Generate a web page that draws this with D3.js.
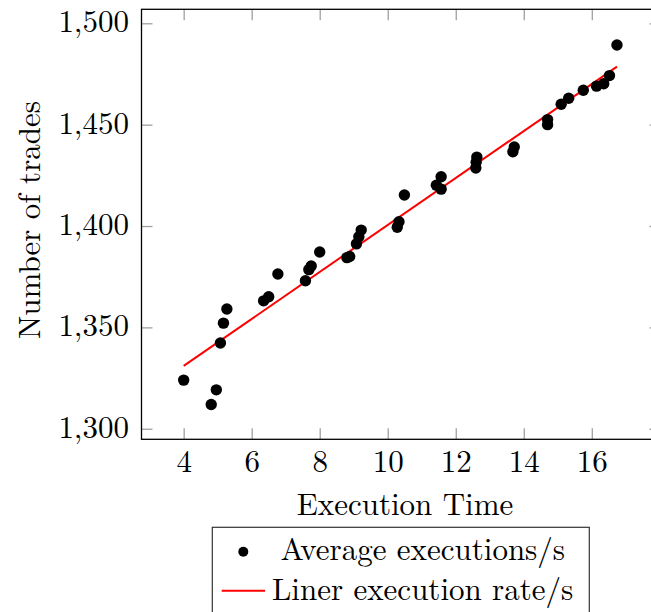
<!DOCTYPE html>
<html>
<head>
<meta charset="utf-8">
<script src="https://cdn.jsdelivr.net/npm/d3@7"></script>
<style>
  html, body { margin: 0; padding: 0; background: #fff; }
  svg { display: block; }
</style>
</head>
<body>
<svg id="chart" width="651" height="612"></svg>
<script>
// ---- data ----
const execTime = [4.00, 4.81, 4.96, 5.08, 5.17, 5.27, 6.35, 6.50, 6.77, 7.58, 7.68, 7.75, 8.00,
  8.80, 8.88, 9.08, 9.15, 9.22, 10.28, 10.33, 10.49, 11.43, 11.57, 11.57, 12.59, 12.60, 12.62,
  13.68, 13.72, 14.70, 14.70, 15.10, 15.32, 15.75, 16.14, 16.35, 16.52, 16.74];
const trades = [1324.0, 1312.0, 1319.2, 1342.3, 1352.1, 1359.1, 1363.1, 1365.1, 1376.3, 1373.0, 1378.5, 1380.3, 1387.2,
  1384.4, 1385.0, 1391.2, 1394.7, 1398.0, 1399.4, 1402.1, 1415.3, 1420.1, 1424.3, 1418.2, 1428.6, 1431.5, 1434.0,
  1436.6, 1439.0, 1450.0, 1452.5, 1460.1, 1463.0, 1467.0, 1469.0, 1470.2, 1474.2, 1489.3];
const fitX = [4.00, 16.74];
const fitY = [1331.0, 1478.6];
const xTicks = [4, 6, 8, 10, 12, 14, 16];
const yTicks = [1300, 1350, 1400, 1450, 1500];
const xDomain = [2.76, 18.02];
const yDomain = [1294.8, 1506.9];
const seriesNames = ["Average executions/s", "Liner execution rate/s"];
const xTitle = "Execution Time";
const yTitle = "Number of trades";

// ---- layout ----
const FONT = '"Latin Modern Roman", "Liberation Serif", serif';
const FS = 31;
const L = 141.5, R = 660.5, T = 9.3, B = 439.3;
const svg = d3.select("#chart");
svg.append("rect").attr("width", 651).attr("height", 612).attr("fill", "#fff");

const x = d3.scaleLinear().domain(xDomain).range([L, R]);
const y = d3.scaleLinear().domain(yDomain).range([B, T]);
const fmt = d3.format(",");
const tickLen = 11;
const tickColor = "#a0a0a0";

function styleAxis(g) {
  g.attr("font-family", null).attr("font-size", null);
  g.select(".domain").remove();
  g.selectAll(".tick line").attr("stroke", tickColor).attr("stroke-width", 1.3);
}
function styleText(sel) {
  sel.style("font-family", FONT).style("font-size", FS + "px").attr("fill", "#000");
}

// bottom (labels)
const gB = svg.append("g").attr("transform", `translate(0,${B})`)
  .call(d3.axisBottom(x).tickValues(xTicks).tickSize(-tickLen).tickFormat(d3.format("d")));
styleAxis(gB);
gB.selectAll(".tick text").attr("y", 32.4).attr("dy", null).call(styleText);

// top (no labels)
const gT = svg.append("g").attr("transform", `translate(0,${T})`)
  .call(d3.axisTop(x).tickValues(xTicks).tickSize(-tickLen).tickFormat(""));
styleAxis(gT);

// left (labels)
const gL = svg.append("g").attr("transform", `translate(${L},0)`)
  .call(d3.axisLeft(y).tickValues(yTicks).tickSize(-tickLen).tickFormat(fmt));
styleAxis(gL);
gL.selectAll(".tick text").attr("x", -12.5).attr("dy", null).attr("y", 8.5).call(styleText);

// right (no labels)
const gR = svg.append("g").attr("transform", `translate(${R},0)`)
  .call(d3.axisRight(y).tickValues(yTicks).tickSize(-tickLen).tickFormat(""));
styleAxis(gR);

// frame
svg.append("rect").attr("x", L).attr("y", T).attr("width", R - L).attr("height", B - T)
  .attr("fill", "none").attr("stroke", "#000").attr("stroke-width", 1.3);

// fit line
const line = d3.line().x(d => x(d[0])).y(d => y(d[1]));
svg.append("path").datum(d3.zip(fitX, fitY)).attr("d", line)
  .attr("fill", "none").attr("stroke", "#ff0000").attr("stroke-width", 2);

// scatter
svg.append("g").selectAll("circle").data(d3.zip(execTime, trades)).join("circle")
  .attr("cx", d => x(d[0])).attr("cy", d => y(d[1])).attr("r", 5.7).attr("fill", "#000");

// axis titles
svg.append("text").attr("x", 405).attr("y", 515).attr("text-anchor", "middle")
  .call(styleText).text(xTitle);
svg.append("text").attr("transform", `translate(40,220) rotate(-90)`).attr("text-anchor", "middle")
  .call(styleText).text(yTitle);

// legend
const lg = svg.append("g");
lg.append("rect").attr("x", 212.3).attr("y", 527.3).attr("width", 377).attr("height", 120)
  .attr("fill", "#fff").attr("stroke", "#333").attr("stroke-width", 1.2);
lg.append("circle").attr("cx", 243.3).attr("cy", 551.7).attr("r", 5).attr("fill", "#000");
lg.append("text").attr("x", 280.5).attr("y", 560).call(styleText).text(seriesNames[0]);
lg.append("line").attr("x1", 221.7).attr("x2", 265).attr("y1", 590.7).attr("y2", 590.7)
  .attr("stroke", "#ff0000").attr("stroke-width", 2);
lg.append("text").attr("x", 272).attr("y", 600).call(styleText).text(seriesNames[1]);
</script>
</body>
</html>
